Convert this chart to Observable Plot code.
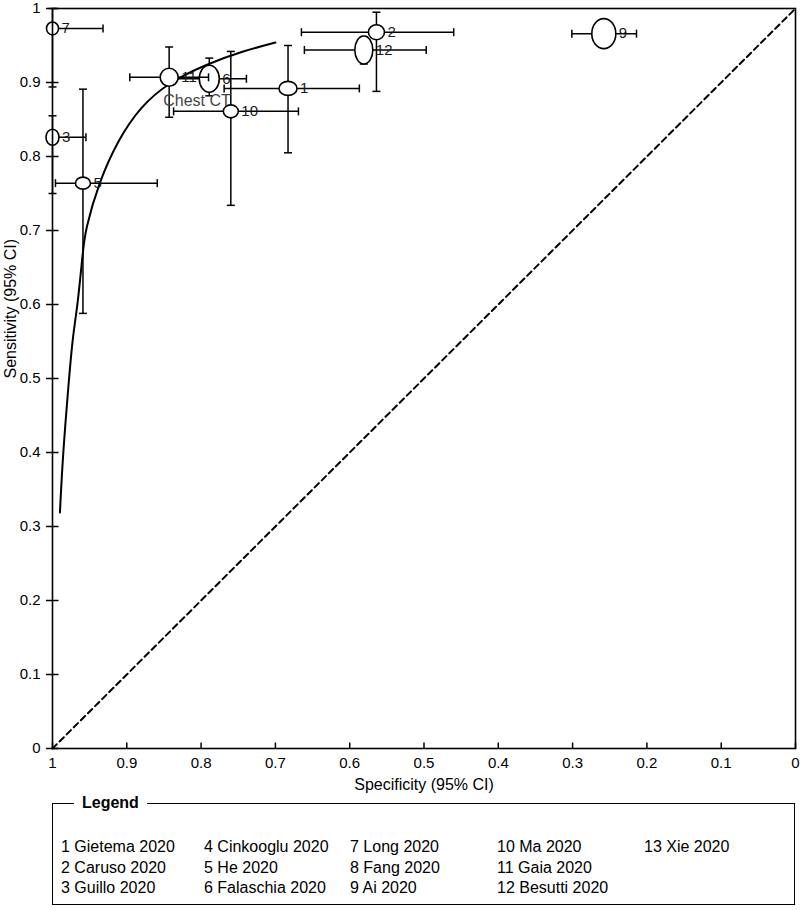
<!DOCTYPE html>
<html>
<head>
<meta charset="utf-8">
<script src="https://cdn.jsdelivr.net/npm/d3@7"></script>
<script src="https://cdn.jsdelivr.net/npm/@observablehq/plot@0.6"></script>
<style>
  body { margin: 0; background: #fff; font-family: "Liberation Sans", Arial, sans-serif; }
  #wrap { position: relative; width: 800px; height: 910px; }
  #chart { position: absolute; left: 0; top: 0; }
  #legend { position: absolute; left: 52px; top: 803px; width: 743px; height: 102px;
            border: 1.5px solid #000; box-sizing: border-box; }
  #legend .title { position: absolute; left: 21px; top: -11px; background: #fff; padding: 0 8px;
                   font-weight: bold; font-size: 16px; line-height: 20px; color: #000; }
  #legend .items { position: absolute; left: 8px; top: 33px; display: grid;
                   grid-template-columns: 143px 146px 147px 147px 147px;
                   grid-template-rows: repeat(3, 20.5px); grid-auto-flow: column;
                   font-size: 16px; line-height: 20.5px; color: #000; }
</style>
</head>
<body>
<div id="wrap">
  <div id="chart"></div>
  <div id="legend"><div class="title">Legend</div><div class="items"></div></div>
</div>
<script>
// ---------- data ----------
const legendNames = ["Gietema 2020", "Caruso 2020", "Guillo 2020", "Cinkooglu 2020", "He 2020",
  "Falaschia 2020", "Long 2020", "Fang 2020", "Ai 2020", "Ma 2020", "Gaia 2020", "Besutti 2020", "Xie 2020"];

// plotted studies (by legend number)
const studyId     = [1,     2,     3,     5,     6,     7,     9,     10,    11,    12];
const specificity = [0.683, 0.564, 1.000, 0.959, 0.789, 1.000, 0.258, 0.760, 0.843, 0.581];
const sensitivity = [0.892, 0.968, 0.826, 0.764, 0.905, 0.973, 0.966, 0.861, 0.907, 0.944];
const specLow     = [0.587, 0.460, 0.955, 0.859, 0.739, 0.932, 0.214, 0.669, 0.790, 0.497];
const specHigh    = [0.769, 0.665, 1.000, 0.996, 0.840, 1.000, 0.301, 0.837, 0.896, 0.661];
const sensLow     = [0.805, 0.888, 0.750, 0.588, 0.882, 0.894, 0.955, 0.734, 0.853, 0.925];
const sensHigh    = [0.950, 0.995, 0.855, 0.891, 0.933, 1.000, 0.975, 0.942, 0.948, 0.962];
// relative study size shown by the ellipses (non-diseased -> width, diseased -> height)
const weightNonDiseased = [18, 16, 13, 15, 20, 12, 24, 15, 18, 18];
const weightDiseased    = [14, 15, 16, 12, 27, 13, 30, 13, 18, 28];

// SROC curve
const srocSpec = [0.990, 0.986, 0.978, 0.973, 0.966, 0.959, 0.956, 0.938, 0.912, 0.882, 0.844, 0.792, 0.745, 0.700];
const srocSens = [0.319, 0.398, 0.497, 0.555, 0.600, 0.673, 0.700, 0.764, 0.822, 0.867, 0.900, 0.925, 0.942, 0.954];
const curveName = ["Chest CT"];
const curveLabelSpec = [0.851];
const curveLabelSens = [0.875];

// chance line
const chanceSpec = [1, 0];
const chanceSens = [0, 1];

// axes
const xTicks = [1, 0.9, 0.8, 0.7, 0.6, 0.5, 0.4, 0.3, 0.2, 0.1, 0];
const xTickLabels = ["1", "0.9", "0.8", "0.7", "0.6", "0.5", "0.4", "0.3", "0.2", "0.1", "0"];
const yTicks = [0, 0.1, 0.2, 0.3, 0.4, 0.5, 0.6, 0.7, 0.8, 0.9, 1];
const yTickLabels = ["0", "0.1", "0.2", "0.3", "0.4", "0.5", "0.6", "0.7", "0.8", "0.9", "1"];
const xTitle = ["Specificity (95% CI)"];
const yTitle = ["Sensitivity (95% CI)"];

// ---------- build ----------
const studies = studyId.map((id, i) => ({
  id, spec: specificity[i], sens: sensitivity[i],
  sLo: specLow[i], sHi: specHigh[i], eLo: sensLow[i], eHi: sensHigh[i],
  w: weightNonDiseased[i], h: weightDiseased[i]
}));
const curve = srocSpec.map((s, i) => ({spec: s, sens: srocSens[i]}));
const chance = chanceSpec.map((s, i) => ({spec: s, sens: chanceSens[i]}));
const xLab = new Map(xTicks.map((t, i) => [t, xTickLabels[i]]));
const yLab = new Map(yTicks.map((t, i) => [t, yTickLabels[i]]));

function ellipseSymbol(rx, ry) {
  const k = 0.5523;
  return {draw(c) {
    c.moveTo(rx, 0);
    c.bezierCurveTo(rx, k * ry, k * rx, ry, 0, ry);
    c.bezierCurveTo(-k * rx, ry, -rx, k * ry, -rx, 0);
    c.bezierCurveTo(-rx, -k * ry, -k * rx, -ry, 0, -ry);
    c.bezierCurveTo(k * rx, -ry, rx, -k * ry, rx, 0);
    c.closePath();
  }};
}
const capVertical = {draw(c) { c.moveTo(0, -4); c.lineTo(0, 4); }};
const capHorizontal = {draw(c) { c.moveTo(-4, 0); c.lineTo(4, 0); }};
const tickUp = {draw(c) { c.moveTo(0, 0); c.lineTo(0, -6); }};
const tickRight = {draw(c) { c.moveTo(0, 0); c.lineTo(6, 0); }};

const ink = "#000";
const studyMarks = [];
const order = studies.slice().sort((a, b) => b.w * b.h - a.w * a.h);
for (const s of order) {
  studyMarks.push(
    Plot.link([s], {x1: "sLo", x2: "sHi", y1: "sens", y2: "sens", stroke: ink, strokeWidth: 1.5}),
    Plot.link([s], {x1: "spec", x2: "spec", y1: "eLo", y2: "eHi", stroke: ink, strokeWidth: 1.5}),
    Plot.dot([s, s], {x: (d, i) => i ? d.sHi : d.sLo, y: "sens", symbol: capVertical, fill: "none", stroke: ink, strokeWidth: 1.5}),
    Plot.dot([s, s], {x: "spec", y: (d, i) => i ? d.eHi : d.eLo, symbol: capHorizontal, fill: "none", stroke: ink, strokeWidth: 1.5}),
    Plot.dot([s], {x: "spec", y: "sens", symbol: ellipseSymbol(s.w / 2, s.h / 2), fill: "white", stroke: ink, strokeWidth: 1.6})
  );
}
const labelMarks = studies.map(s =>
  Plot.text([s], {x: "spec", y: "sens", text: d => String(d.id), textAnchor: "start",
    dx: s.w / 2 + 3, fontSize: 15, fill: "#1a1a1a"})
);

const chart = Plot.plot({
  width: 800, height: 792,
  marginLeft: 52, marginRight: 5, marginTop: 8, marginBottom: 44,
  x: {domain: [1, 0]},
  y: {domain: [0, 1]},
  style: {fontFamily: "'Liberation Sans', Arial, sans-serif", fontSize: "15px", background: "white", color: "#000", overflow: "visible"},
  marks: [
    Plot.line(chance, {x: "spec", y: "sens", stroke: ink, strokeWidth: 2, strokeDasharray: "6,4"}),
    Plot.line(curve, {x: "spec", y: "sens", curve: "basis", stroke: ink, strokeWidth: 2}),
    ...studyMarks,
    ...labelMarks,
    Plot.text(curveName, {x: () => curveLabelSpec[0], y: () => curveLabelSens[0], text: d => d,
      textAnchor: "start", fontSize: 16, fill: "#444"}),
    Plot.frame({stroke: ink, strokeWidth: 1.6}),
    Plot.axisX(xTicks, {tickSize: 0, tickPadding: 9, tickFormat: d => xLab.get(d), label: null, fontSize: 15}),
    Plot.dot(xTicks, {x: d => d, y: yTicks[0], symbol: tickUp, fill: "none", stroke: ink, strokeWidth: 1.5}),
    Plot.axisY(yTicks, {tickSize: 6, tickPadding: 6, tickFormat: d => yLab.get(d), label: null, fontSize: 15, strokeWidth: 1.5}),
    Plot.dot(yTicks, {x: xTicks[0], y: d => d, symbol: tickRight, fill: "none", stroke: ink, strokeWidth: 1.5}),
    Plot.text(xTitle, {frameAnchor: "bottom", dy: 41, text: d => d, fontSize: 16}),
    Plot.text(yTitle, {frameAnchor: "left", dx: -42, rotate: -90, text: d => d, fontSize: 16})
  ]
});
document.getElementById("chart").appendChild(chart);

const items = document.querySelector("#legend .items");
legendNames.forEach((n, i) => {
  const el = document.createElement("div");
  el.textContent = (i + 1) + " " + n;
  items.appendChild(el);
});
</script>
</body>
</html>
